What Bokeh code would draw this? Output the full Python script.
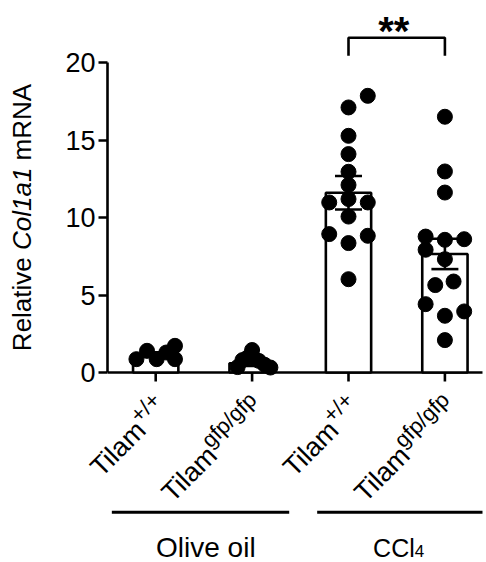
import math
from bokeh.plotting import figure
from bokeh.layouts import row, column
from bokeh.models import FixedTicker, Range1d
from bokeh.core.properties import value
from bokeh.embed import file_html
from bokeh.resources import INLINE

# ---------------- data ----------------
group_pos = [1, 2, 3, 4]
genotype_main = ["Tilam", "Tilam", "Tilam", "Tilam"]
genotype_sup = ["+/+", "gfp/gfp", "+/+", "gfp/gfp"]
treatment_names = ["Olive oil", "CCl"]
treatment_subs = ["", "4"]
treatment_members = [[1, 2], [3, 4]]

bar_means = [1.15, 0.60, 11.6, 7.65]
bar_sems = [0.15, 0.17, 1.08, 0.98]

g1_values = [0.86, 1.40, 0.86, 1.29, 1.72, 0.86]
g1_jitter = [-0.20, -0.09, 0.01, 0.11, 0.20, 0.20]
g2_values = [0.35, 0.80, 0.95, 1.45, 0.75, 0.50, 0.32]
g2_jitter = [-0.15, -0.10, -0.05, 0.00, 0.07, 0.13, 0.19]
g3_values = [17.85, 17.1, 15.27, 14.09, 12.95, 12.1, 10.97, 11.19, 10.97, 10.06, 8.93, 8.82, 8.35, 6.02]
g3_jitter = [0.20, 0.0, 0.0, 0.0, 0.0, 0.0, -0.20, 0.0, 0.20, 0.0, -0.20, 0.20, 0.0, 0.0]
g4_values = [16.5, 12.97, 11.61, 8.77, 8.56, 8.6, 7.92, 7.31, 5.64, 5.87, 4.41, 3.94, 3.66, 2.09]
g4_jitter = [0.0, 0.0, 0.0, -0.20, 0.0, 0.20, -0.20, 0.0, -0.10, 0.09, -0.20, 0.20, 0.0, 0.0]

y_ticks = [0, 5, 10, 15, 20]
y_axis_max = 20
y_title_parts = [("Relative", "normal"), ("Col1a1", "italic"), ("mRNA", "normal")]

sig_pair = [3, 4]
sig_text = "**"
sig_level = 21.6

# ---------------- layout ----------------
FONT = "Liberation Sans"
PX_X = 96.4      # px per group step
PX_Y = 15.5      # px per y unit
TOP = 10
ZERO_PAGE = 372          # page y of value 0
MAIN_BOTTOM = 388        # page y where the main plot ends
PAGE_BOTTOM = 562
AXIS_PAGE_X = 107
RIGHT_PAGE = 484
LEFT_STRIP = 40
MID = 0.35               # middle anchor sits this many em above the baseline
x0 = 0.5


def ydata(page_y):
    return (ZERO_PAGE - page_y) / PX_Y


x_range = Range1d(x0, x0 + (RIGHT_PAGE - AXIS_PAGE_X) / PX_X)
y_range = Range1d(ydata(MAIN_BOTTOM), ydata(TOP))

ADV = {' ': 278, '+': 584, '/': 278, 'T': 611, 'i': 222, 'l': 222, 'a': 556, 'm': 833,
       'g': 556, 'f': 278, 'p': 556, 'R': 722, 'e': 556, 't': 278, 'v': 500, 'C': 722,
       'o': 556, '1': 556, 'N': 722, 'A': 667, 'O': 778, '4': 556, '*': 389}


def text_w(s, size):
    return sum(ADV.get(ch, 556) for ch in s) / 1000.0 * size


def clean(fig):
    fig.outline_line_color = None
    fig.grid.visible = False
    fig.background_fill_color = "white"
    fig.border_fill_color = "white"


# ---------------- main plot ----------------
p = figure(frame_width=RIGHT_PAGE - AXIS_PAGE_X, frame_height=MAIN_BOTTOM - TOP,
           x_range=x_range, y_range=y_range, x_axis_type=None, output_backend="svg",
           toolbar_location=None, min_border_left=AXIS_PAGE_X - LEFT_STRIP,
           min_border_right=0, min_border_top=TOP, min_border_bottom=0)
clean(p)

LW = 2.6
ax = p.yaxis[0]
ax.bounds = (0, y_axis_max)
ax.ticker = FixedTicker(ticks=y_ticks)
ax.axis_line_width = LW
ax.axis_line_color = "black"
ax.major_tick_line_width = LW
ax.major_tick_line_color = "black"
ax.major_tick_out = 9
ax.major_tick_in = 0
ax.minor_tick_line_color = None
ax.major_label_text_font = FONT
ax.major_label_text_font_size = "27px"
ax.major_label_text_color = "black"
ax.major_label_standoff = 3

# x axis drawn at y = 0
x_end = max(group_pos) + 0.39
p.segment(x0=[x0], y0=[0], x1=[x_end], y1=[0], line_color="black", line_width=LW)
tick_len = 9 / PX_Y
p.segment(x0=group_pos, y0=[0] * 4, x1=group_pos, y1=[-tick_len] * 4,
          line_color="black", line_width=LW)

# bars
p.vbar(x=group_pos, top=bar_means, bottom=0, width=0.47, fill_color="white",
       line_color="black", line_width=LW)

# points
all_vals = [g1_values, g2_values, g3_values, g4_values]
all_jit = [g1_jitter, g2_jitter, g3_jitter, g4_jitter]
xs, ys = [], []
for pos, vals, jit in zip(group_pos, all_vals, all_jit):
    for v, j in zip(vals, jit):
        xs.append(pos + j)
        ys.append(v)
p.scatter(x=xs, y=ys, size=15, fill_color="black", line_color="black")

# SEM error bars
lo = [m - s for m, s in zip(bar_means, bar_sems)]
hi = [m + s for m, s in zip(bar_means, bar_sems)]
cap = 0.14
p.segment(x0=group_pos, y0=lo, x1=group_pos, y1=hi, line_color="black", line_width=LW)
p.segment(x0=[g - cap for g in group_pos], y0=hi, x1=[g + cap for g in group_pos], y1=hi,
          line_color="black", line_width=LW)
p.segment(x0=[g - cap for g in group_pos], y0=lo, x1=[g + cap for g in group_pos], y1=lo,
          line_color="black", line_width=LW)

# significance bracket
drop = 18 / PX_Y
p.line(x=[sig_pair[0], sig_pair[0], sig_pair[1], sig_pair[1]],
       y=[sig_level - drop, sig_level, sig_level, sig_level - drop],
       line_color="black", line_width=LW)
SIG_SIZE = 40
sig_center_page = 21.5
p.text(x=[(sig_pair[0] + sig_pair[1]) / 2 - 3 / PX_X],
       y=[ydata(sig_center_page + (0.58 - MID) * SIG_SIZE)],
       text=[sig_text], text_font=value(FONT), text_font_size=value(f"{SIG_SIZE}px"),
       text_font_style="bold", text_align="center", text_baseline="middle",
       text_color="black")

# ---------------- bottom strip: genotype and treatment labels ----------------
b = figure(frame_width=RIGHT_PAGE, frame_height=PAGE_BOTTOM - MAIN_BOTTOM,
           x_range=Range1d(x0 - AXIS_PAGE_X / PX_X, x_range.end),
           y_range=Range1d(ydata(PAGE_BOTTOM), ydata(MAIN_BOTTOM)),
           x_axis_type=None, y_axis_type=None, output_backend="svg", toolbar_location=None,
           min_border_left=0, min_border_right=0, min_border_top=0, min_border_bottom=0)
clean(b)

c = math.cos(math.pi / 4)
MAIN_SIZE, SUP_SIZE = 27, 22
raise_px, gap_px = 12, 0
for pos, main, sup in zip(group_pos, genotype_main, genotype_sup):
    # baseline right end of superscript, in page pixels
    spx = AXIS_PAGE_X + (pos - x0) * PX_X + 6
    spy = ZERO_PAGE + 29
    wsup = text_w(sup, SUP_SIZE)
    mpx = spx - c * wsup - c * gap_px + c * raise_px
    mpy = spy + c * wsup + c * gap_px + c * raise_px
    for ax_, ay_, txt, size in ((spx, spy, sup, SUP_SIZE), (mpx, mpy, main, MAIN_SIZE)):
        # move from baseline to middle anchor (perpendicular up = (-c, -c) on page)
        qx = ax_ - c * MID * size
        qy = ay_ - c * MID * size
        b.text(x=[x0 + (qx - AXIS_PAGE_X) / PX_X], y=[ydata(qy)], text=[txt],
               angle=math.pi / 4, text_font=value(FONT),
               text_font_size=value(f"{size}px"), text_align="right",
               text_baseline="middle", text_color="black")

line_page_y = 511.7
base_page_y = 556.5
name_sizes = [28, 25]
SUBSIZE = 17
gap_half = 0.145
bounds = []
for k, members in enumerate(treatment_members):
    left = x0 + 0.045 if k == 0 else (treatment_members[k - 1][-1] + members[0]) / 2 + 0.03 + gap_half
    right = x_end if k == len(treatment_members) - 1 else (members[-1] + treatment_members[k + 1][0]) / 2 + 0.03 - gap_half
    bounds.append((left, right))

for name, sub, members, size, (a, e) in zip(treatment_names, treatment_subs,
                                             treatment_members, name_sizes, bounds):
    b.segment(x0=[a], y0=[ydata(line_page_y)], x1=[e], y1=[ydata(line_page_y)],
              line_color="black", line_width=3)
    cx = sum(members) / len(members) + 0.02
    w_main = text_w(name, size)
    w_sub = text_w(sub, SUBSIZE) if sub else 0
    start = cx - (w_main + w_sub) / 2 / PX_X
    b.text(x=[start], y=[ydata(base_page_y - MID * size)], text=[name],
           text_font=value(FONT), text_font_size=value(f"{size}px"), text_align="left",
           text_baseline="middle", text_color="black")
    if sub:
        b.text(x=[start + w_main / PX_X], y=[ydata(base_page_y - MID * SUBSIZE)], text=[sub],
               text_font=value(FONT), text_font_size=value(f"{SUBSIZE}px"),
               text_align="left", text_baseline="middle", text_color="black")

# ---------------- left strip: y-axis title (middle word italic) ----------------
t = figure(frame_width=LEFT_STRIP, frame_height=MAIN_BOTTOM - TOP,
           x_range=Range1d(0, LEFT_STRIP), y_range=y_range, x_axis_type=None,
           y_axis_type=None, output_backend="svg", toolbar_location=None,
           min_border_left=0, min_border_right=0, min_border_top=TOP, min_border_bottom=0)
clean(t)

TSIZE = 26
title_baseline_x = 31
space = text_w(" ", TSIZE)
widths = [text_w(s, TSIZE) for s, _ in y_title_parts]
total = sum(widths) + space * (len(widths) - 1)
cum = 0.0
center = y_axis_max / 2
for (s, style), w in zip(y_title_parts, widths):
    yc = center - total / 2 / PX_Y + (cum + w / 2) / PX_Y
    t.text(x=[title_baseline_x - MID * TSIZE], y=[yc], text=[s], angle=math.pi / 2,
           text_font=value(FONT), text_font_size=value(f"{TSIZE}px"),
           text_font_style=style, text_align="center", text_baseline="middle",
           text_color="black")
    cum += w + space

layout = column(row(t, p, spacing=0), b, spacing=0)
open("out.html", "w").write(file_html(layout, INLINE))
